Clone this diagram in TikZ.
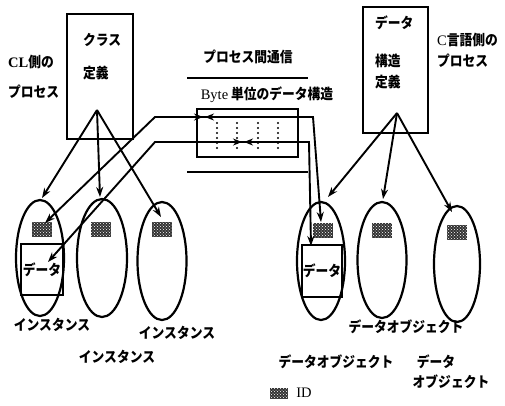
\documentclass[tikz,border=0pt]{standalone}
\usepackage{fontspec}
\setmainfont{Liberation Serif}
\newfontfamily\jp{Noto Sans CJK JP}[FakeStretch=0.88]
\usetikzlibrary{arrows.meta,patterns,shapes.geometric}
\begin{document}
\begin{tikzpicture}[x=1pt,y=-1pt,
  every node/.style={font=\jp\bfseries\fontsize{14.5}{16}\selectfont, inner sep=0pt},
  deffbox/.style={draw, line width=2.2pt},
  obj/.style={ellipse, draw, line width=2.2pt},
  idbox/.style={fill=black!80, postaction={pattern=crosshatch dots, pattern color=white}, minimum width=20, minimum height=15},
  databox/.style={draw, line width=2pt, minimum width=42, minimum height=51},
  conn/.style={line width=1.9pt, -{Stealth[length=10pt,width=7pt]}},
  conn2/.style={line width=1.9pt, {Stealth[length=10pt,width=7pt]}-{Stealth[length=10pt,width=7pt]}},
  tipmark/.style={line width=1.9pt, -{Stealth[length=9pt,width=7pt]}},
  dotl/.style={line width=2.4pt, dash pattern=on 0pt off 5pt, line cap=round},
  rule/.style={line width=2.2pt}]
\useasboundingbox (0,0) rectangle (505,405);

% left class definition box
\node[deffbox, minimum width=66, minimum height=125] (clsbox) at (100,76.5) {};
\node[anchor=west] (cls1) at (83,40) {クラス};
\node[anchor=west] (cls2) at (83,73) {定義};
\node[anchor=west] (clp1) at (8,62) {{\rmfamily\bfseries CL}側の};
\node[anchor=west] (clp2) at (8,92) {プロセス};
\coordinate (lapex) at (97,110);

% right data structure definition box
\node[deffbox, minimum width=65, minimum height=126] (dsbox) at (395.5,70) {};
\node[anchor=west] (ds1) at (375,23) {データ};
\node[anchor=west] (ds2) at (375,61) {構造};
\node[anchor=west] (ds3) at (375,82) {定義};
\node[anchor=west] (cp1) at (437,40) {{\rmfamily\mdseries C}言語側の};
\node[anchor=west] (cp2) at (437,61) {プロセス};
\coordinate (rapex) at (397,113);

% middle: inter-process communication
\node (ipc) at (248,57) {プロセス間通信};
\node (bytes) at (267,95) {{\rmfamily\mdseries Byte} 単位のデータ構造};
\coordinate (rt1) at (187,78); \coordinate (rt2) at (308,78);
\coordinate (rb1) at (187,172); \coordinate (rb2) at (308,172);
\draw[rule] (rt1) -- (rt2);
\draw[rule] (rb1) -- (rb2);
\node[draw, line width=2.2pt, minimum width=101, minimum height=48] (buf) at (247.5,133) {};
\foreach \x in {217,237,258,278} \draw[dotl] (\x,123) -- (\x,152);

% left instances
\node[obj, minimum width=48, minimum height=116] (L1) at (40,258) {};
\node[obj, minimum width=50, minimum height=118] (L2) at (102,258) {};
\node[obj, minimum width=49, minimum height=118] (L3) at (162,261) {};
\node[idbox] (L1id) at (42,229.5) {};
\node[idbox] (L2id) at (101,229.5) {};
\node[idbox] (L3id) at (162,229.5) {};
\node[databox] (L1data) at (42,269.5) {データ};
\node (lab1) at (52,325) {インスタンス};
\node (lab2) at (117,357) {インスタンス};
\node (lab3) at (177,333) {インスタンス};

% right data objects
\node[obj, minimum width=48, minimum height=118] (R1) at (321,261) {};
\node[obj, minimum width=49, minimum height=116] (R2) at (382,260) {};
\node[obj, minimum width=46, minimum height=116] (R3) at (457,264) {};
\node[idbox] (R1id) at (322.5,230.5) {};
\node[idbox] (R2id) at (382,230.5) {};
\node[idbox] (R3id) at (457,232.5) {};
\node[databox, minimum width=40, minimum height=52] (R1data) at (322,271) {データ};
\node (rlab2) at (406,327) {データオブジェクト};
\node (rlab1) at (336,362) {データオブジェクト};
\node (rlab3a) at (436,362) {データ};
\node (rlab3b) at (451,382) {オブジェクト};

% legend
\node[idbox, minimum width=18, minimum height=11] (legid) at (279,393) {};
\node (legtxt) at (304,393) {\rmfamily\mdseries ID};

% target coordinates
\coordinate (tL1) at (42,198);
\coordinate (tL2) at (100,197);
\coordinate (tL3) at (161,217);
\coordinate (tR1) at (328,197);
\coordinate (tR2) at (383,199);
\coordinate (tR3) at (452,212);

\draw[conn] (lapex) -- (tL1);
\draw[conn] (lapex) -- (tL2);
\draw[conn] (lapex) -- (tL3);
\draw[conn] (rapex) -- (tR1);
\draw[conn] (rapex) -- (tR2);
\draw[conn] (rapex) -- (tR3);

% IPC connectors
\coordinate (uL) at (45,223);
\coordinate (u1) at (155,117);
\coordinate (u2) at (313,117);
\coordinate (uR) at (321,222);
\coordinate (dL) at (48,262);
\coordinate (d1) at (155,142);
\coordinate (d2) at (309,142);
\coordinate (dR) at (311,246);
\draw[conn2] (uL) -- (u1) -- (u2) -- (uR);
\draw[conn2] (dL) -- (d1) -- (d2) -- (dR);

% markers in the buffer
\coordinate (ma1) at (193,117); \coordinate (ma2) at (203,117);
\coordinate (mb1) at (217,117); \coordinate (mb2) at (205,117);
\coordinate (mc1) at (231,142); \coordinate (mc2) at (242,142);
\coordinate (md1) at (256,142); \coordinate (md2) at (244,142);
\draw[tipmark] (ma1) -- (ma2);
\draw[tipmark] (mb1) -- (mb2);
\draw[tipmark] (mc1) -- (mc2);
\draw[tipmark] (md1) -- (md2);
\end{tikzpicture}
\end{document}
